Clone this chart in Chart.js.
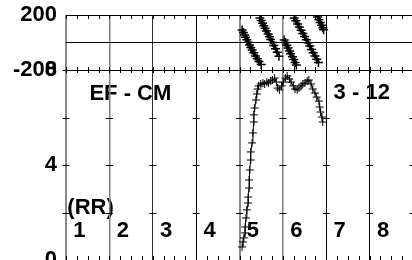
<!DOCTYPE html>
<html lang="en">
<head>
<meta charset="UTF-8">
<title>EF - CM</title>
<script src="https://cdn.jsdelivr.net/npm/chart.js"></script>
<style>
    html, body { margin: 0; padding: 0; background: #fff; overflow: hidden; }
    body { width: 412px; height: 260px; }
    #chart { display: block; }
</style>
</head>
<body>
<canvas id="chart" width="419" height="274" style="width:419px;height:274px"></canvas>
<script>
// RR curve (bottom panel)
const rrX = [4.06, 4.08, 4.10, 4.13, 4.13, 4.15, 4.17, 4.20, 4.20, 4.22, 4.22, 4.24, 4.26, 4.26, 4.29, 4.31,
    4.33, 4.33, 4.35, 4.38, 4.40, 4.42, 4.44, 4.49, 4.54, 4.58, 4.63, 4.67, 4.72, 4.76, 4.81, 4.85,
    4.88, 4.92, 4.97, 5.01, 5.06, 5.10, 5.15, 5.19, 5.24, 5.28, 5.33, 5.37, 5.42, 5.46, 5.51, 5.56,
    5.60, 5.65, 5.69, 5.74, 5.78, 5.83, 5.85, 5.87, 5.90, 5.92];
const rrY = [0.55, 0.76, 0.93, 1.14, 1.39, 1.77, 2.11, 2.40, 2.65, 3.03, 3.37, 3.79, 4.21, 4.55, 4.93, 5.35,
    5.81, 6.11, 6.40, 6.74, 6.99, 7.20, 7.33, 7.41, 7.45, 7.41, 7.49, 7.45, 7.54, 7.58, 7.66, 7.49,
    7.24, 7.16, 7.33, 7.49, 7.66, 7.75, 7.62, 7.49, 7.33, 7.20, 7.16, 7.24, 7.33, 7.41, 7.45, 7.54,
    7.58, 7.41, 7.20, 7.03, 6.86, 6.69, 6.44, 6.23, 6.02, 5.81];

// phase streaks (top panel), null = break between streaks
const phaseX = [4.06, 4.09, 4.12, 4.14, 4.17, 4.20, 4.23, 4.26, 4.29, 4.33, 4.37, 4.41, 4.45, 4.50, null,
    4.47, 4.50, 4.53, 4.56, 4.59, 4.62, 4.66, 4.69, 4.72, 4.76, 4.79, 4.83, 4.87, 4.91, null,
    5.03, 5.06, 5.09, 5.12, 5.15, 5.18, 5.22, 5.25, 5.28, 5.31, null,
    5.26, 5.30, 5.34, 5.38, 5.42, 5.46, 5.50, 5.54, 5.58, 5.62, 5.66, 5.70, 5.74, 5.78, 5.82, null,
    5.80, 5.83, 5.86, 5.89, 5.92, 5.94];
const phaseY = [91, 72, 55, 38, 20, 2, -18, -36, -55, -75, -98, -118, -138, -160, null,
    178, 160, 140, 122, 104, 84, 62, 42, 22, 0, -22, -45, -70, -100, null,
    18, 0, -20, -40, -62, -82, -104, -124, -146, -164, null,
    178, 158, 135, 112, 90, 66, 44, 20, -2, -26, -50, -74, -98, -122, -146, null,
    185, 166, 146, 126, 108, 92];

const cellLabels = ['1', '2', '3', '4', '5', '6', '7', '8'];
const phaseTicks = [-200, 0, 200];
const rrTicks = [0, 4, 8];

const gridColors = ['#8a8a8a', '#808080', '#303030', '#000', '#8a8a8a', '#808080', '#000', '#000', '#000'];
const gridWidths = [2, 1.5, 1, 1, 2, 1.5, 1, 1, 1];

Chart.defaults.font.family = '"Liberation Sans", Arial, sans-serif';
Chart.defaults.font.size = 22;
Chart.defaults.font.weight = 'bold';
Chart.defaults.color = '#000';

const FONT = 'bold 22px "Liberation Sans", Arial, sans-serif';
// small lineHeight keeps the label overhang from pushing the plot area in
const tickFont = { size: 22, weight: 'bold', lineHeight: 0.2 };

// texts drawn under the grid
const textPlugin = {
    id: 'texts',
    beforeDraw(chart) {
        const xs = chart.scales.x, yr = chart.scales.y;
        const ctx = chart.ctx;
        ctx.save();
        ctx.font = FONT;
        ctx.fillStyle = '#000';
        ctx.textBaseline = 'middle';
        ctx.textAlign = 'left';
        cellLabels.forEach((t, i) => {
            ctx.fillText(t, xs.getPixelForValue(i + 0.17), yr.getPixelForValue(1.22));
        });
        ctx.fillText('(RR)', xs.getPixelForValue(0.03), yr.getPixelForValue(2.19));
        ctx.fillText('EF - CM', xs.getPixelForValue(0.54), yr.getPixelForValue(6.99));
        ctx.fillText('3 - 12', xs.getPixelForValue(6.17), yr.getPixelForValue(7.03));
        ctx.restore();
    }
};

// minor ticks on the frame lines and small crosses on the vertical lines
const tickPlugin = {
    id: 'minorTicks',
    beforeDatasetsDraw(chart) {
        const xs = chart.scales.x, yp = chart.scales.yPhase, yr = chart.scales.y;
        const ctx = chart.ctx;
        const yTop = yp.getPixelForValue(200);
        const yMid = yp.getPixelForValue(-200);
        const yBot = yr.getPixelForValue(0);
        ctx.save();
        ctx.strokeStyle = '#000';
        ctx.lineWidth = 1;
        ctx.beginPath();
        for (let q = 0; q <= 32; q++) {
            const px = Math.round(xs.getPixelForValue(q / 4)) + 0.5;
            ctx.moveTo(px, yTop); ctx.lineTo(px, yTop + 4);
            ctx.moveTo(px, yMid - 3); ctx.lineTo(px, yMid + 3);
            ctx.moveTo(px, yBot); ctx.lineTo(px, yBot - 4);
        }
        for (let i = 0; i <= 8; i++) {
            const px = xs.getPixelForValue(i);
            [2, 4, 6, 8].forEach(v => {
                const py = Math.round(yr.getPixelForValue(v)) + 0.5;
                ctx.moveTo(px - 3.5, py); ctx.lineTo(px + 3.5, py);
            });
        }
        ctx.stroke();
        ctx.restore();
    }
};

function fixWidth(scale) { scale.width = 66; }

new Chart(document.getElementById('chart'), {
    type: 'scatter',
    data: {
        datasets: [{
            data: rrX.map((x, i) => ({ x: x, y: rrY[i] })),
            yAxisID: 'y',
            showLine: true,
            borderColor: '#000',
            borderWidth: 1,
            pointStyle: 'cross',
            pointRadius: 4,
            pointBorderColor: '#000',
            pointBorderWidth: 1
        }, {
            data: phaseX.map((x, i) => ({ x: x, y: phaseY[i] })),
            yAxisID: 'yPhase',
            showLine: true,
            spanGaps: false,
            borderColor: '#000',
            borderWidth: 3,
            pointStyle: 'cross',
            pointRadius: 4.5,
            pointBorderColor: '#000',
            pointBorderWidth: 1.5
        }]
    },
    options: {
        responsive: false,
        animation: false,
        layout: { padding: { top: 15, left: 0, right: 0, bottom: 14 } },
        plugins: { legend: { display: false }, tooltip: { enabled: false } },
        scales: {
            x: {
                type: 'linear',
                min: 0,
                max: 8,
                ticks: { display: false, stepSize: 1 },
                border: { display: false },
                grid: {
                    drawTicks: false,
                    color: c => gridColors[c.index] || '#000',
                    lineWidth: c => gridWidths[c.index] || 1
                }
            },
            y: {
                type: 'linear',
                position: 'left',
                stack: 'panels',
                stackWeight: 190,
                min: 0,
                max: 8,
                afterFit: fixWidth,
                afterBuildTicks: s => { s.ticks = rrTicks.map(v => ({ value: v })); },
                ticks: { padding: 9, autoSkip: false, font: tickFont },
                border: { display: false },
                grid: { display: false, drawTicks: false }
            },
            yPhase: {
                type: 'linear',
                position: 'left',
                stack: 'panels',
                stackWeight: 55,
                min: -200,
                max: 200,
                afterFit: fixWidth,
                afterBuildTicks: s => { s.ticks = phaseTicks.map(v => ({ value: v })); },
                ticks: { padding: 9, autoSkip: false, font: tickFont, callback: v => (v === 0 ? '' : v) },
                border: { display: false },
                grid: { color: '#000', lineWidth: 1, drawTicks: false }
            }
        }
    },
    plugins: [textPlugin, tickPlugin]
});
</script>
</body>
</html>
